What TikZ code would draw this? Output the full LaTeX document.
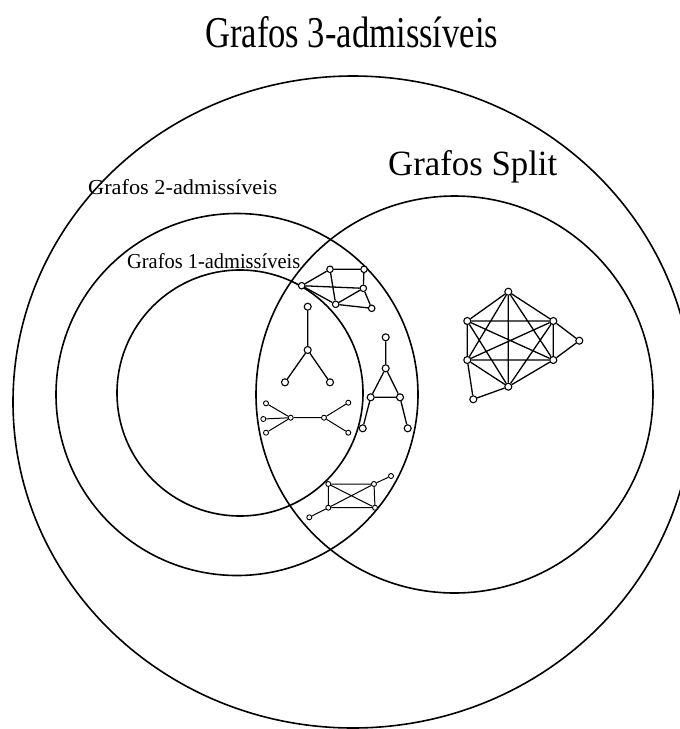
\documentclass[tikz,border=0pt]{standalone}
\usepackage{graphicx}
\usepackage{fontspec}
\setmainfont{Liberation Serif}
\begin{document}
\begin{tikzpicture}[x=1pt,y=-1pt,
  ring/.style={line width=1.6pt},
  lbl/.style={inner sep=0pt, anchor=base west},
  bv/.style={circle, draw, fill=white, inner sep=0pt, minimum size=7pt, line width=1.1pt},
  sv/.style={circle, draw, fill=white, inner sep=0pt, minimum size=5pt, line width=0.9pt},
  be/.style={line width=1.3pt},
  se/.style={line width=1.0pt}]
\useasboundingbox (0,0) rectangle (680,729);
% sets
\draw[ring] (353,402) ellipse [x radius=340, y radius=326];
\draw[ring] (237,394.5) circle [radius=181];
\draw[ring] (240,393) circle [radius=123];
\draw[ring] (454.5,394.5) circle [radius=198.5];
% labels
\node[lbl] (t3) at (205,47) {\resizebox{293pt}{31pt}{Grafos 3-admissíveis}};
\node[lbl] (tS) at (388,175) {\resizebox{169pt}{25pt}{Grafos Split}};
\node[lbl] (t2) at (88,194.5) {\resizebox{189pt}{15pt}{Grafos 2-admissíveis}};
\node[lbl] (t1) at (127,268) {\resizebox{173pt}{15pt}{Grafos 1-admissíveis}};
% graph 1 (top)
\node[bv,minimum size=6.5pt] (a1) at (330,269.3) {};
\node[bv,minimum size=6.5pt] (a2) at (364,269.3) {};
\node[bv,minimum size=6.5pt] (a3) at (301.7,285.7) {};
\node[bv,minimum size=6.5pt] (a4) at (363.3,288.3) {};
\node[bv,minimum size=6.5pt] (a5) at (335.7,304.3) {};
\node[bv,minimum size=6.5pt] (a6) at (371.7,308.3) {};
\draw[be] (a1)--(a2) (a1)--(a3) (a1)--(a5) (a2)--(a4) (a3)--(a4) (a3)--(a5)
  (a5)--(a4) (a4)--(a6) (a5)--(a6);
% graph 2 (claw)
\node[bv] (b1) at (307.7,306.7) {};
\node[bv] (b2) at (307.7,350) {};
\node[bv] (b3) at (285,382.3) {};
\node[bv] (b4) at (330,382.3) {};
\draw[be] (b1)--(b2) (b2)--(b3) (b2)--(b4);
% graph 3 (double star)
\node[sv] (c1) at (290.7,417.7) {};
\node[sv] (c2) at (324,417.7) {};
\node[sv] (c3) at (266,403.3) {};
\node[sv] (c4) at (263.3,419) {};
\node[sv] (c5) at (266,432.7) {};
\node[sv] (c6) at (348.3,402.7) {};
\node[sv] (c7) at (348.3,432.7) {};
\draw[se] (c1)--(c2) (c1)--(c3) (c1)--(c4) (c1)--(c5) (c2)--(c6) (c2)--(c7);
% graph 4 (A shape)
\node[bv] (d1) at (385.7,337.3) {};
\node[bv] (d2) at (385.7,368.3) {};
\node[bv] (d3) at (370.7,397.3) {};
\node[bv] (d4) at (400,397.3) {};
\node[bv] (d5) at (362.7,428.3) {};
\node[bv] (d6) at (407.7,428.3) {};
\draw[be] (d1)--(d2) (d2)--(d3) (d2)--(d4) (d3)--(d4) (d3)--(d5) (d4)--(d6);
% graph 5 (K4 with pendants)
\node[sv] (e1) at (328.3,484) {};
\node[sv] (e2) at (374,484) {};
\node[sv] (e3) at (328.3,507.7) {};
\node[sv] (e4) at (375,507.7) {};
\node[sv] (e5) at (391,476) {};
\node[sv] (e6) at (309.3,517.3) {};
\draw[se] (e1)--(e2) (e2)--(e4) (e4)--(e3) (e3)--(e1) (e1)--(e4) (e2)--(e3)
  (e2)--(e5) (e3)--(e6);
% graph 6 (split graph with K6)
\node[bv] (f1) at (508.3,291.7) {};
\node[bv] (f2) at (467.3,321) {};
\node[bv] (f3) at (553.3,321) {};
\node[bv] (f4) at (579.3,340.7) {};
\node[bv] (f5) at (467.3,360) {};
\node[bv] (f6) at (553.3,360) {};
\node[bv] (f7) at (508.3,386.7) {};
\node[bv] (f8) at (473.3,399.3) {};
\draw[be] (f1)--(f2) (f1)--(f3) (f1)--(f5) (f1)--(f6) (f1)--(f7)
  (f2)--(f3) (f2)--(f5) (f2)--(f6) (f2)--(f7)
  (f3)--(f5) (f3)--(f6) (f3)--(f7)
  (f5)--(f6) (f5)--(f7) (f6)--(f7)
  (f3)--(f4) (f6)--(f4) (f5)--(f8) (f8)--(f7);
\end{tikzpicture}
\end{document}
